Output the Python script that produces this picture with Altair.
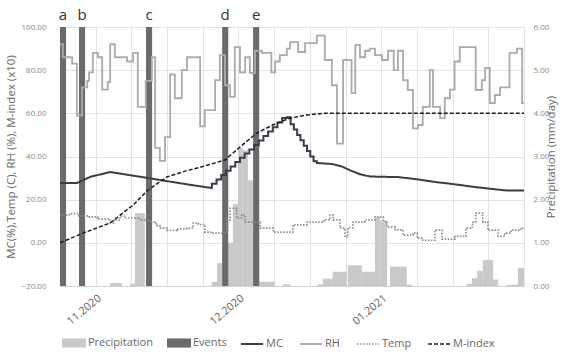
import altair as alt
import pandas as pd

# ---------------- data (x = days from start of the window) ----------------
grid_days = [0, 7.62, 15.23, 22.85, 30.46, 38.08, 45.69, 53.31, 60.92, 68.54, 76.15, 83.77, 91.38, 99]
grid_labels = ["", "11.2020", "", "", "", "12.2020", "", "", "", "01.2021", "", "", "", ""]

event_names = ["a", "b", "c", "d", "e"]
event_start = [0.0, 4.05, 18.35, 34.6, 41.2]
event_end = [1.3, 5.35, 19.65, 35.9, 42.5]

precip_start = [10.7, 14.9, 16.0, 32.4, 33.5, 34.6, 35.8, 36.9, 38.0, 39.0, 40.1, 41.2, 42.5, 47.6,
                54.8, 56.1, 58.2, 61.4, 64.4, 67.2, 68.3, 70.4, 74.0, 86.8, 87.9, 89.0, 90.2, 92.4,
                95.4, 97.7]
precip_end = [13.2, 16.0, 18.1, 33.5, 34.6, 35.8, 36.9, 38.0, 39.0, 40.1, 41.2, 42.5, 45.9, 49.1,
              56.1, 58.2, 61.2, 64.4, 67.2, 68.3, 69.8, 74.0, 75.1, 87.9, 89.0, 90.2, 92.4, 93.5,
              97.7, 99.0]
precip_mm = [0.07, 0.05, 1.69, 0.10, 0.53, 0.90, 1.00, 1.90, 3.20, 3.15, 2.45, 1.20, 0.10, 0.04,
             0.04, 0.17, 0.33, 0.48, 0.33, 1.60, 1.50, 0.45, 0.03, 0.05, 0.18, 0.35, 0.60, 0.15,
             0.03, 0.42]

# MC: smooth segments plus explicit stair corners (linear path in drawing order)
mc_day = [0, 3.6, 6.5, 10.7, 16, 22, 28, 32.4,
          32.4, 33.4, 33.4, 34.4, 34.4, 35.4, 35.4, 36.4, 36.4, 37.4, 37.4, 38.4, 38.4, 39.4, 39.4,
          40.4, 40.4, 41.4, 41.4, 42.4, 42.4, 43.4, 43.4, 44.4, 44.4, 45.4, 45.4, 46.4, 46.4, 47.4,
          47.4, 48.4, 48.4, 49.2,
          49.2, 49.9, 49.9, 50.6, 50.6, 51.3, 51.3, 52.0, 52.0, 52.7, 52.7, 53.4, 53.4, 54.1, 54.1,
          54.8, 54.8,
          58, 60, 62, 64, 66, 68, 72, 76, 80, 84, 88, 92, 95.5, 99]
mc_val = [27.7, 27.7, 30.6, 32.8, 31.0, 28.9, 26.8, 25.4,
          27.4, 27.4, 29.4, 29.4, 31.4, 31.4, 33.4, 33.4, 35.4, 35.4, 37.4, 37.4, 39.4, 39.4, 41.4,
          41.4, 43.2, 43.2, 45.3, 45.3, 47.4, 47.4, 49.5, 49.5, 51.6, 51.6, 53.6, 53.6, 55.7, 55.7,
          57.8, 57.8, 58.2, 58.2,
          55.0, 55.0, 52.5, 52.5, 50.0, 50.0, 47.5, 47.5, 45.0, 45.0, 42.5, 42.5, 40.0, 40.0, 37.8,
          37.8, 37.0,
          36.5, 35.5, 33.5, 31.8, 30.8, 30.6, 30.5, 29.5, 28.2, 27.2, 26.0, 25.0, 24.2, 24.2]

rh_day = [0, 0.6, 2.6, 3.6, 4.7, 5.8, 6.2, 7.0, 8.1, 9.0, 10.2, 10.7, 11.7, 14.3, 15.6, 16.6, 18.3,
          19.6, 20.3, 21.3, 22.4, 23.5, 24.5, 26.0, 27.1, 29.9, 30.9, 33.1, 34.1, 35.2, 36.3, 37.3,
          38.4, 39.5, 40.5, 41.6, 43.1, 45.1, 45.9, 46.9, 48.4, 49.1, 50.8, 52.3, 54.8, 56.5, 58.0,
          59.1, 60.4, 62.2, 63.0, 64.0, 65.1, 66.1, 67.2, 68.7, 70.0, 71.2, 72.1, 73.2, 74.2, 75.3,
          76.4, 77.4, 78.9, 79.6, 81.1, 82.1, 83.2, 84.2, 85.3, 88.7, 90.0, 90.7, 91.7, 92.8, 93.9,
          95.9, 97.5, 98.6, 99]
rh_val = [92, 86, 83, 59, 72, 75, 79, 88, 86, 71, 74.5, 92, 86, 84, 88, 63, 75,
          86, 44, 38, 49, 78, 67, 80, 86, 54, 61.5, 75.4, 87, 73, 67.6, 90.7,
          79, 86, 78.7, 89, 88, 79, 84, 87, 90, 93, 88.4, 92.5, 96, 84.7, 73,
          46, 84.7, 69.4, 91.7, 86, 89, 90, 87, 84.7, 89, 80, 89, 75.4, 70.8, 53,
          54.6, 63, 80, 63, 57.8, 67, 71, 84, 90.7, 70.8, 75.4, 81, 64.8, 68.5, 72,
          88, 90, 64.8, 64.8]

temp_day = [0, 2, 4, 6, 8, 10.7, 11.5, 12.8, 14, 17, 19.2, 20.5, 21.3, 22.8, 25, 27.1, 28.4, 29.5,
            30.9, 32.6, 34.6, 35.6, 36.3, 37.7, 38.8, 39.5, 42.7, 45.5, 49.7, 52.7, 56.3, 57.6,
            58.3, 59.7, 60.8, 61.4, 62.5, 65, 67.2, 69, 69.8, 71.5, 73.2, 75.3, 76.2, 77.4, 80,
            81.5, 84.3, 86.6, 88, 88.7, 90.2, 91.3, 93.5, 94.9, 96.2, 98.3, 99]
temp_val = [12.9, 13.5, 12.5, 12.0, 11.0, 9.2, 10.6, 12.3, 11.5, 10.6, 9.6, 8.0, 6.8, 5.8, 6.5, 6.8,
            9.2, 8.5, 5.0, 4.5, 5.0, 10.6, 16.0, 11.5, 13.0, 9.6, 6.8, 5.0, 8.3, 9.6, 10.6, 12.9,
            10.6, 6.8, 2.7, 7.0, 9.6, 10.6, 12.0, 10.0, 7.3, 6.0, 3.6, 4.5, 2.2, 1.2, 5.9,
            1.7, 3.0, 6.8, 9.6, 13.8, 9.6, 5.9, 3.0, 4.5, 5.9, 6.8, 6.8]

mi_day = [0, 4.9, 10.7, 15.6, 18.8, 22.8, 27.1, 29.9, 35.2, 38.4, 42.0, 45.4, 49.1, 52.7, 56.1, 99]
mi_val = [0, 4.5, 9.2, 17.5, 24.5, 30.5, 33.5, 35.0, 38.4, 44.4, 50.9, 54.6, 57.8, 59.2, 60.0, 60.0]

left_ticks = [-20, 0, 20, 40, 60, 80, 100]
right_ticks = [0, 1, 2, 3, 4, 5, 6]

# ---------------- tables ----------------
events_df = pd.DataFrame({"start": event_start, "end": event_end, "name": event_names,
                          "series": "Events"})
precip_df = pd.DataFrame({"start": precip_start, "end": precip_end, "mm": precip_mm,
                          "series": "Precipitation"})
steps_df = pd.concat([
    pd.DataFrame({"day": rh_day, "value": rh_val, "series": "RH"}),
    pd.DataFrame({"day": temp_day, "value": temp_val, "series": "Temp"}),
])
mc_df = pd.DataFrame({"day": mc_day, "value": mc_val, "series": "MC",
                      "idx": list(range(len(mc_day)))})
mi_df = pd.DataFrame({"day": mi_day, "value": mi_val, "series": "M-index"})

FONT = "Open Sans"
GRID = "#e2e2e2"

label_expr = " : ".join(
    f"datum.value == {v} ? '{t}'" for v, t in zip(grid_days, grid_labels) if t
) + " : ''"

x_axis = alt.Axis(values=grid_days, labelExpr=label_expr, grid=True, gridColor=GRID,
                  ticks=False, domain=True, domainColor="#d0d0d0", labelAngle=-40,
                  labelFontSize=11, labelColor="#666666", labelFont=FONT, labelPadding=6,
                  title=None, labelOverlap=False, labelFlush=False)
x_scale = alt.Scale(domain=[0, 99], nice=False, zero=False)


def X(field):
    return alt.X(field, type="quantitative", scale=x_scale, axis=x_axis)


left_scale = alt.Scale(domain=[-20, 100], nice=False, zero=False)
left_axis = alt.Axis(values=left_ticks, format=".2f", grid=True, gridColor=GRID, ticks=False,
                     domain=False, labelFontSize=8, labelColor="#888888", labelFont=FONT,
                     labelPadding=14, title="MC(%),Temp (C), RH (%), M-index (x10)",
                     titleFontSize=11.5, titleFont=FONT, titleColor="#666666",
                     titleFontWeight="normal", titlePadding=5)

bar_legend = alt.Legend(orient="none", legendX=2, legendY=304, direction="horizontal",
                        title=None, symbolType="M-1,-0.38H1V0.38H-1Z", symbolSize=576,
                        symbolStrokeWidth=0, labelFontSize=11, labelColor="#666666",
                        labelFont=FONT, labelOffset=2, columnPadding=14)
line_legend = alt.Legend(orient="none", legendX=180, legendY=305, direction="horizontal",
                         title=None, symbolType="stroke", symbolSize=484,
                         labelFontSize=11, labelColor="#666666", labelFont=FONT,
                         labelOffset=2, columnPadding=13)

fill_enc = alt.Fill("series:N", scale=alt.Scale(domain=["Precipitation", "Events"],
                                                range=["#c9c9c9", "#6b6b6b"]),
                    legend=bar_legend)
line_domain = ["MC", "RH", "Temp", "M-index"]
stroke_enc = alt.Stroke("series:N", scale=alt.Scale(domain=line_domain,
                                                    range=["#3b3b4a", "#ababab", "#8a8a8a", "#1e1e1e"]),
                        legend=line_legend)
dash_enc = alt.StrokeDash("series:N", scale=alt.Scale(domain=line_domain,
                                                      range=[[1, 0], [1, 0], [1.5, 1.5], [4, 2]]),
                          legend=line_legend)
width_enc = alt.StrokeWidth("series:N", scale=alt.Scale(domain=line_domain,
                                                        range=[2, 1.5, 1, 2]),
                            legend=line_legend)

precip = alt.Chart(precip_df).mark_rect().encode(
    x=X("start"), x2="end",
    y=alt.Y("mm:Q", scale=alt.Scale(domain=[0, 6], nice=False, zero=True),
            axis=alt.Axis(orient="right", values=right_ticks, format=".2f", grid=False,
                          ticks=False, domain=False, labelFontSize=8, labelColor="#888888",
                          labelFont=FONT, labelPadding=9, title="Precipitation (mm/day)",
                          titleFontSize=11.5, titleFont=FONT, titleColor="#666666",
                          titleFontWeight="normal", titleAngle=270, titlePadding=8)),
    y2=alt.Y2Datum(0),
    fill=fill_enc,
)

events = alt.Chart(events_df).mark_rect().encode(
    x=X("start"), x2="end",
    y=alt.YDatum(100, scale=left_scale, axis=left_axis), y2=alt.Y2Datum(-20),
    fill=fill_enc,
)

event_labels = alt.Chart(events_df).transform_calculate(
    mid="(datum.start + datum.end) / 2"
).mark_text(font=FONT, fontSize=15, color="#333333", baseline="middle").encode(
    x=X("mid"), y=alt.value(-12), text="name:N",
)

line_enc = dict(stroke=stroke_enc, strokeDash=dash_enc, strokeWidth=width_enc)

steps = alt.Chart(steps_df).mark_line(interpolate="step-after").encode(
    x=X("day"), y=alt.Y("value:Q", scale=left_scale, axis=left_axis), **line_enc,
)

mc = alt.Chart(mc_df).mark_line().encode(
    x=X("day"), y=alt.Y("value:Q", scale=left_scale, axis=left_axis),
    order="idx:Q", **line_enc,
)

mindex = alt.Chart(mi_df).mark_line().encode(
    x=X("day"), y=alt.Y("value:Q", scale=left_scale, axis=left_axis), **line_enc,
)

left_group = alt.layer(events, mc, steps, mindex, event_labels)

chart = alt.layer(precip, left_group).resolve_scale(y="independent").properties(
    width=464, height=259,
    autosize=alt.AutoSizeParams(type="none"),
    padding={"left": 60, "top": 27, "right": 40, "bottom": 72},
).configure_view(stroke=None).configure(background="white")

chart.save("out.html", embed_options={"renderer": "svg", "actions": False})
